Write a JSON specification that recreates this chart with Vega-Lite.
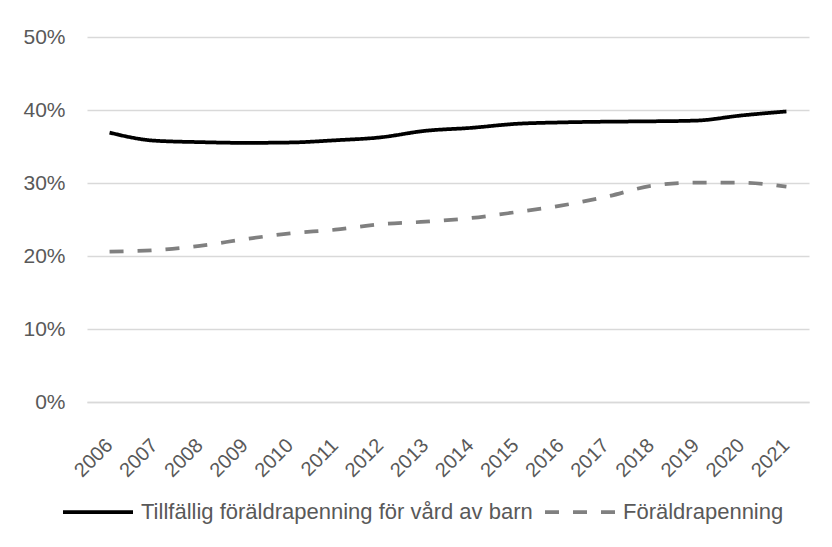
{
  "$schema": "https://vega.github.io/schema/vega-lite/v6.json",
  "width": 722,
  "height": 365,
  "autosize": {"type": "none"},
  "padding": {"left": 87, "top": 37, "right": 23, "bottom": 145},
  "background": "white",
  "config": {
    "font": "Liberation Sans",
    "view": {"stroke": null},
    "axis": {"labelFont": "Liberation Sans", "labelFontSize": 21, "labelColor": "#595959", "title": null}
  },
  "data": {
    "values": [
      {"year": "2006", "serie": "Tillfällig föräldrapenning för vård av barn", "value": 36.9},
      {"year": "2007", "serie": "Tillfällig föräldrapenning för vård av barn", "value": 35.8},
      {"year": "2008", "serie": "Tillfällig föräldrapenning för vård av barn", "value": 35.6},
      {"year": "2009", "serie": "Tillfällig föräldrapenning för vård av barn", "value": 35.5},
      {"year": "2010", "serie": "Tillfällig föräldrapenning för vård av barn", "value": 35.55},
      {"year": "2011", "serie": "Tillfällig föräldrapenning för vård av barn", "value": 35.85},
      {"year": "2012", "serie": "Tillfällig föräldrapenning för vård av barn", "value": 36.25},
      {"year": "2013", "serie": "Tillfällig föräldrapenning för vård av barn", "value": 37.15},
      {"year": "2014", "serie": "Tillfällig föräldrapenning för vård av barn", "value": 37.55},
      {"year": "2015", "serie": "Tillfällig föräldrapenning för vård av barn", "value": 38.1},
      {"year": "2016", "serie": "Tillfällig föräldrapenning för vård av barn", "value": 38.3},
      {"year": "2017", "serie": "Tillfällig föräldrapenning för vård av barn", "value": 38.4},
      {"year": "2018", "serie": "Tillfällig föräldrapenning för vård av barn", "value": 38.45},
      {"year": "2019", "serie": "Tillfällig föräldrapenning för vård av barn", "value": 38.55},
      {"year": "2020", "serie": "Tillfällig föräldrapenning för vård av barn", "value": 39.25},
      {"year": "2021", "serie": "Tillfällig föräldrapenning för vård av barn", "value": 39.8},
      {"year": "2006", "serie": "Föräldrapenning", "value": 20.6},
      {"year": "2007", "serie": "Föräldrapenning", "value": 20.8},
      {"year": "2008", "serie": "Föräldrapenning", "value": 21.4},
      {"year": "2009", "serie": "Föräldrapenning", "value": 22.3},
      {"year": "2010", "serie": "Föräldrapenning", "value": 23.1},
      {"year": "2011", "serie": "Föräldrapenning", "value": 23.6},
      {"year": "2012", "serie": "Föräldrapenning", "value": 24.35},
      {"year": "2013", "serie": "Föräldrapenning", "value": 24.7},
      {"year": "2014", "serie": "Föräldrapenning", "value": 25.2},
      {"year": "2015", "serie": "Föräldrapenning", "value": 26.0},
      {"year": "2016", "serie": "Föräldrapenning", "value": 26.9},
      {"year": "2017", "serie": "Föräldrapenning", "value": 28.1},
      {"year": "2018", "serie": "Föräldrapenning", "value": 29.6},
      {"year": "2019", "serie": "Föräldrapenning", "value": 30.05},
      {"year": "2020", "serie": "Föräldrapenning", "value": 30.05},
      {"year": "2021", "serie": "Föräldrapenning", "value": 29.5}
    ]
  },
  "mark": {"type": "line", "strokeWidth": 3.75, "interpolate": "monotone", "strokeCap": "butt"},
  "encoding": {
    "x": {
      "field": "year", "type": "ordinal",
      "scale": {"type": "band", "paddingInner": 0, "paddingOuter": 0},
      "axis": {"labelAngle": -45, "labelAlign": "right", "labelBaseline": "middle", "labelFontSize": 20, "ticks": false, "domain": true, "domainColor": "#d9d9d9", "domainWidth": 1.5, "labelPadding": 40, "grid": false}
    },
    "y": {
      "field": "value", "type": "quantitative",
      "scale": {"domain": [0, 50], "nice": false},
      "axis": {"values": [0, 10, 20, 30, 40, 50], "labelExpr": "datum.value + '%'", "domain": false, "ticks": false, "labelPadding": 22, "gridColor": "#d9d9d9", "gridWidth": 1.5}
    },
    "color": {
      "field": "serie", "type": "nominal",
      "scale": {"domain": ["Tillfällig föräldrapenning för vård av barn", "Föräldrapenning"], "range": ["#000000", "#808080"]},
      "legend": {"title": null, "orient": "none", "legendX": -26, "legendY": 438, "direction": "horizontal", "symbolType": "stroke", "symbolSize": 4900, "symbolStrokeWidth": 3.75, "labelFontSize": 22, "labelColor": "#595959", "labelFont": "Liberation Sans", "labelOffset": 6, "labelLimit": 0, "columnPadding": 4}
    },
    "strokeDash": {
      "field": "serie", "type": "nominal",
      "scale": {"domain": ["Tillfällig föräldrapenning för vård av barn", "Föräldrapenning"], "range": [[1, 0], [14, 14]]},
      "legend": null
    }
  }
}
